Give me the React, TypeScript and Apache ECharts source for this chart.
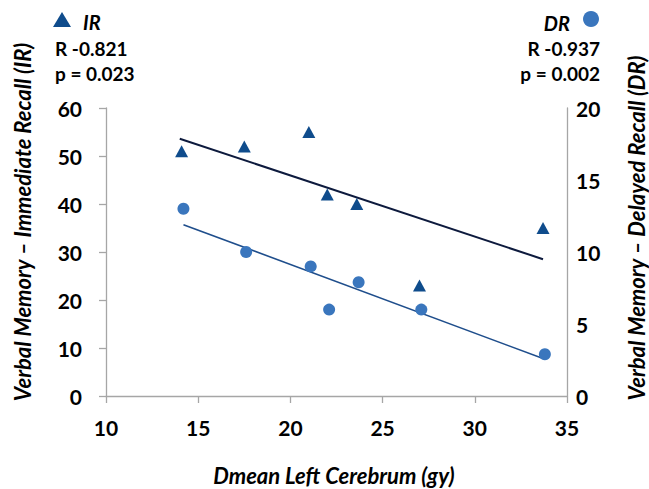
import React, { useEffect, useRef } from "react";
import * as echarts from "echarts";

// Dose (Dmean Left Cerebrum, gy) per patient
const doseIR = [14.1, 17.5, 21.0, 22.0, 23.6, 27.0, 33.7];
const doseDR = [14.2, 17.6, 21.1, 22.1, 23.7, 27.1, 33.8];
// Immediate recall (left axis)
const irValues = [51, 52, 55, 42, 40, 23, 35];
// Delayed recall (right axis)
const drValues = [13, 10, 9, 6, 7.9, 6, 2.9];
// Trend line endpoints
const irTrendX = [14.0, 33.7];
const irTrendY = [53.6, 28.5];
const drTrendX = [14.2, 33.7];
const drTrendY = [11.9, 2.6];

const xTicks = { min: 10, max: 35, interval: 5 };
const leftTicks = { min: 0, max: 60, interval: 10 };
const rightTicks = { min: 0, max: 20, interval: 5 };

const FONT = "Lato, 'Open Sans', sans-serif";
const AXIS_GREY = "#a6a6a6";
const TRI_COLOR = "#0f4c8c";
const DOT_COLOR = "#3a76bd";

export default function App() {
  const ref = useRef<HTMLDivElement>(null);

  useEffect(() => {
    if (!ref.current) return;
    const chart = echarts.init(ref.current, null, { renderer: "svg" });
    const pairs = (xs: number[], ys: number[]) => xs.map((x, i) => [x, ys[i]]);

    const axisLabel = {
      color: "#000",
      fontFamily: FONT,
      fontWeight: "bold" as const,
      fontSize: 21,
    };

    chart.setOption({
      animation: false,
      grid: { left: 106, right: 82, top: 108, bottom: 93, containLabel: false },
      xAxis: {
        type: "value",
        ...xTicks,
        axisLine: { show: true, onZero: false, lineStyle: { color: AXIS_GREY, width: 1.3 } },
        axisTick: { show: true, length: 7, lineStyle: { color: AXIS_GREY, width: 1.3 } },
        splitLine: { show: false },
        axisLabel: { ...axisLabel, margin: 21 },
      },
      yAxis: [
        {
          type: "value",
          position: "left",
          ...leftTicks,
          axisLine: { show: true, onZero: false, lineStyle: { color: AXIS_GREY, width: 1.3 } },
          axisTick: { show: true, length: 7, lineStyle: { color: AXIS_GREY, width: 1.3 } },
          splitLine: { show: false },
          axisLabel: { ...axisLabel, margin: 24 },
        },
        {
          type: "value",
          position: "right",
          ...rightTicks,
          axisLine: { show: true, onZero: false, lineStyle: { color: AXIS_GREY, width: 1.3 } },
          axisTick: { show: false },
          splitLine: { show: false },
          axisLabel: { ...axisLabel, margin: 9 },
        },
      ],
      series: [
        {
          name: "IR trend",
          type: "line",
          yAxisIndex: 0,
          data: pairs(irTrendX, irTrendY),
          showSymbol: false,
          lineStyle: { color: "#0d1a3d", width: 2 },
          z: 1,
        },
        {
          name: "DR trend",
          type: "line",
          yAxisIndex: 1,
          data: pairs(drTrendX, drTrendY),
          showSymbol: false,
          lineStyle: { color: "#1f4e8c", width: 1.6 },
          z: 1,
        },
        {
          name: "IR",
          type: "scatter",
          yAxisIndex: 0,
          data: pairs(doseIR, irValues),
          symbol: "triangle",
          symbolSize: [13, 12],
          itemStyle: { color: TRI_COLOR, opacity: 1 },
          z: 3,
        },
        {
          name: "DR",
          type: "scatter",
          yAxisIndex: 1,
          data: pairs(doseDR, drValues),
          symbol: "circle",
          symbolSize: 12,
          itemStyle: { color: DOT_COLOR, opacity: 1 },
          z: 3,
        },
      ],
      graphic: [
        // IR legend block
        {
          type: "polygon",
          shape: { points: [[53, 27], [62, 12], [71, 27]] },
          style: { fill: TRI_COLOR },
        },
        {
          type: "text",
          x: 83,
          y: 22,
          style: {
            text: "IR",
            font: `italic bold 20px ${FONT}`,
            fill: "#000",
            textAlign: "left",
            textVerticalAlign: "middle",
          },
        },
        {
          type: "text",
          x: 55,
          y: 48,
          style: {
            text: "R -0.821",
            font: `bold 19px ${FONT}`,
            fill: "#000",
            textAlign: "left",
            textVerticalAlign: "middle",
          },
        },
        {
          type: "text",
          x: 55,
          y: 73,
          style: {
            text: "p = 0.023",
            font: `bold 19px ${FONT}`,
            fill: "#000",
            textAlign: "left",
            textVerticalAlign: "middle",
          },
        },
        // DR legend block
        {
          type: "circle",
          shape: { cx: 591, cy: 19, r: 8 },
          style: { fill: DOT_COLOR },
        },
        {
          type: "text",
          x: 570,
          y: 23,
          style: {
            text: "DR",
            font: `italic bold 20px ${FONT}`,
            fill: "#000",
            textAlign: "right",
            textVerticalAlign: "middle",
          },
        },
        {
          type: "text",
          x: 600,
          y: 48,
          style: {
            text: "R -0.937",
            font: `bold 19px ${FONT}`,
            fill: "#000",
            textAlign: "right",
            textVerticalAlign: "middle",
          },
        },
        {
          type: "text",
          x: 600,
          y: 73,
          style: {
            text: "p = 0.002",
            font: `bold 19px ${FONT}`,
            fill: "#000",
            textAlign: "right",
            textVerticalAlign: "middle",
          },
        },
        // Axis titles
        {
          type: "text",
          x: 22,
          y: 222,
          rotation: Math.PI / 2,
          style: {
            text: "Verbal Memory – Immediate Recall (IR)",
            font: `italic bold 22px ${FONT}`,
            fill: "#000",
            textAlign: "center",
            textVerticalAlign: "middle",
          },
        },
        {
          type: "text",
          x: 636,
          y: 228,
          rotation: Math.PI / 2,
          style: {
            text: "Verbal Memory – Delayed Recall (DR)",
            font: `italic bold 22px ${FONT}`,
            fill: "#000",
            textAlign: "center",
            textVerticalAlign: "middle",
          },
        },
        {
          type: "text",
          x: 334,
          y: 475,
          style: {
            text: "Dmean Left Cerebrum (gy)",
            font: `italic bold 22px ${FONT}`,
            fill: "#000",
            textAlign: "center",
            textVerticalAlign: "middle",
          },
        },
      ],
    });

    return () => chart.dispose();
  }, []);

  return (
    <div
      ref={ref}
      style={{ position: "absolute", left: 0, top: 0, width: 649, height: 489, background: "#fff" }}
    />
  );
}
